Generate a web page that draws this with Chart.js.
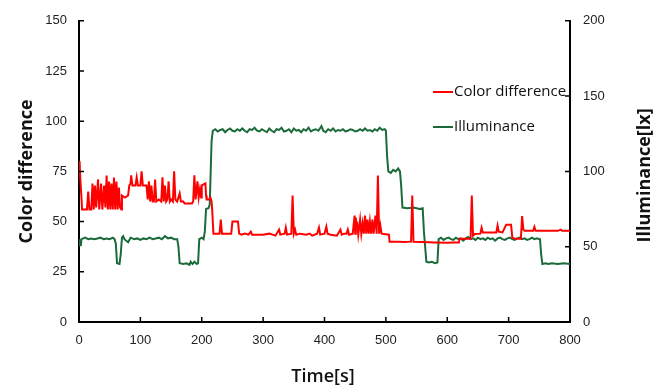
<!DOCTYPE html>
<html>
<head>
<meta charset="utf-8">
<script src="https://cdn.jsdelivr.net/npm/chart.js@4.4.1/dist/chart.umd.min.js"></script>
<style>
  html, body { margin: 0; padding: 0; background: #fff; }
  #wrap { width: 662px; height: 390px; }
</style>
</head>
<body>
<div id="wrap"><canvas id="chart" width="662" height="390"></canvas></div>
<script>
// Farbabstand (linke Achse) und Beleuchtungsstärke (rechte Achse) über die Zeit

const xTicks = [0, 100, 200, 300, 400, 500, 600, 700, 800];
const leftTicks = [0, 25, 50, 75, 100, 125, 150];
const rightTicks = [0, 50, 100, 150, 200];

const colorDiffTime = [
  0, 1, 2, 4, 5, 13, 15, 17, 20, 22, 24, 26, 28, 31, 33, 36, 38, 41, 43, 45,
  47, 49, 51, 53, 55, 57, 59, 61, 63, 65, 67, 69, 70, 75, 80, 82, 84, 85, 87, 92,
  94, 96, 100, 102, 104, 110, 112, 114, 116, 118, 120, 122, 124, 126, 130, 134, 136, 138, 140, 142,
  144, 146, 148, 150, 153, 155, 157, 160, 164, 166, 170, 172, 180, 184, 186, 188, 190, 193, 195, 197,
  199, 200, 206, 207, 208, 212, 214, 216, 217, 219, 229, 231, 233, 248, 250, 259, 261, 265, 270, 276,
  280, 282, 300, 310, 320, 326, 328, 335, 337, 339, 346, 348, 350, 352, 354, 360, 370, 376, 380, 388,
  391, 393, 400, 403, 405, 410, 420, 426, 428, 432, 436, 438, 440, 446, 449, 450, 451, 452, 453, 455,
  458, 460, 462, 464, 466, 468, 470, 472, 474, 476, 478, 480, 483, 485, 487, 489, 491, 493, 505, 506,
  520, 530, 541, 543, 545, 560, 580, 600, 610, 619, 620, 630, 638, 640, 642, 645, 654, 656, 658, 670,
  680, 682, 684, 690, 696, 704, 706, 710, 720, 722, 724, 726, 740, 742, 744, 760, 780, 785, 787, 800
];
const colorDiffValue = [
  76, 80, 72, 62, 56, 56, 65, 56, 56, 69, 56, 68, 57, 71, 56, 69, 56, 68, 57, 73,
  56, 70, 56, 69, 56, 72, 56, 70, 56, 67, 57, 56, 63, 62, 63, 68, 69, 73, 68, 68,
  72, 68, 68, 75, 68, 68, 61, 70, 60, 68, 60, 60, 71, 60, 61, 60, 72, 60, 68, 60,
  61, 70, 60, 61, 60, 75, 61, 60, 64, 60, 60, 59, 59, 59, 60, 73, 61, 70, 62, 66,
  62, 68, 69, 63, 61, 61, 62, 60, 56, 44, 44, 51, 44, 44, 50, 50, 44, 43.5, 44, 43.5,
  45, 43.5, 43.5, 44, 43, 46, 43.5, 44, 47, 43.5, 44, 63, 44, 46, 43.5, 44, 43.5, 44, 43, 44,
  47, 43.5, 44, 47.5, 44, 43.5, 43, 46, 43.5, 44, 44, 46, 43.5, 44, 53, 44, 52, 46, 50, 43.5,
  51, 44, 49, 44, 53, 44, 51, 44, 50, 44, 51, 44, 53, 44, 73, 44, 48, 44, 43.5, 40,
  40, 39.8, 40, 63, 40, 39.8, 39.6, 39.5, 39.6, 39.6, 41.5, 41.5, 41.5, 63, 43, 43.8, 44, 47, 44.6, 44.6,
  44.6, 48, 45, 44.6, 48.4, 48.4, 42, 41.5, 41.5, 52.8, 46, 45.4, 45.4, 47.4, 45.4, 45.4, 45.4, 46, 45.4, 45.4
];

const illumTime = [
  0, 1, 3, 4, 10, 15, 20, 25, 30, 35, 40, 45, 50, 55, 58, 60, 62, 66, 68, 70,
  72, 74, 80, 84, 90, 95, 100, 105, 110, 115, 120, 125, 130, 135, 140, 145, 150, 155, 160, 162,
  164, 170, 175, 180, 182, 185, 188, 192, 194, 196, 200, 203, 205, 207, 211, 213, 216, 218, 222, 226,
  230, 234, 238, 242, 246, 250, 254, 258, 262, 266, 270, 274, 278, 282, 286, 290, 294, 298, 302, 306,
  310, 314, 318, 322, 326, 330, 334, 338, 342, 346, 350, 354, 358, 362, 366, 370, 374, 378, 382, 386,
  390, 395, 398, 402, 406, 410, 414, 418, 422, 426, 430, 434, 438, 442, 446, 450, 454, 458, 462, 466,
  470, 474, 478, 482, 486, 490, 494, 498, 500, 502, 504, 508, 512, 516, 520, 523, 525, 527, 535, 545,
  555, 560, 562, 566, 570, 575, 580, 584, 586, 590, 594, 598, 602, 606, 610, 614, 618, 622, 626, 630,
  634, 638, 642, 646, 650, 654, 658, 662, 666, 670, 674, 678, 682, 686, 690, 694, 698, 702, 706, 710,
  714, 718, 722, 726, 730, 734, 738, 742, 746, 750, 751, 753, 755, 760, 765, 770, 780, 790, 800
];
const illumValue = [
  55, 51, 51, 55, 56, 55, 55.5, 55, 55.5, 56, 55, 55.5, 55, 56, 55, 52, 39, 38.5, 45, 56,
  57, 55, 53, 56, 55, 55.5, 54.5, 55.5, 55, 56, 55, 55.5, 56, 55, 57, 55.5, 56, 55, 55, 50,
  39, 38.5, 39, 38, 40, 38.5, 40, 38.5, 39, 55, 56, 55, 60, 75, 75.5, 78, 120, 127, 128, 126.5,
  127.5, 128, 126, 127.5, 128.5, 127, 126.5, 128, 127, 128.5, 127, 126, 128, 127.5, 129, 127, 126.5, 128, 127, 126,
  128.5, 127, 126, 128, 127.5, 129, 126.5, 127, 128, 126, 128.5, 127, 127.5, 126, 128, 127, 129, 126.5, 127.5, 128,
  127, 130, 127, 126, 128, 127, 128.5, 126.5, 127.5, 127, 128, 126.5, 127, 128, 127.5, 126.5, 127, 128, 127, 128.5,
  127, 127.5, 126.5, 128, 127, 129, 127.5, 128, 127, 110, 100, 99, 101, 100, 102, 100, 90, 76, 75.5, 76,
  75, 75.5, 60, 40, 39.5, 40, 39, 39.5, 55, 56, 54.5, 55.5, 56, 55, 54.5, 56, 55, 55.5, 54, 55.5,
  56.5, 55, 55.5, 54.5, 56, 55, 55.5, 54.5, 56, 55, 55.5, 54, 55.5, 56, 55, 54.5, 55.5, 56, 55, 54.5,
  55.5, 56, 55, 55.5, 54.5, 55, 56, 55, 55.5, 55, 55.5, 45, 38.5, 39, 38.5, 39, 38.5, 39, 38.5
];

const seriesNames = ["Color difference", "Illuminance"];
const axisTitles = { x: "Time[s]", y: "Color difference", y1: "Illuminance[lx]" };

function toPoints(xs, ys) {
  return xs.map((t, i) => ({ x: t, y: ys[i] }));
}

// Ticks nach innen zeichnen
const innerTicks = {
  id: "innerTicks",
  afterDraw(chart) {
    const { ctx, chartArea, scales } = chart;
    const len = 5;
    ctx.save();
    ctx.strokeStyle = "#000";
    ctx.lineWidth = 1.5;
    ctx.beginPath();
    scales.x.ticks.forEach(t => {
      const px = scales.x.getPixelForValue(t.value);
      ctx.moveTo(px, chartArea.bottom);
      ctx.lineTo(px, chartArea.bottom - len);
    });
    scales.y.ticks.forEach(t => {
      const py = scales.y.getPixelForValue(t.value);
      ctx.moveTo(chartArea.left, py);
      ctx.lineTo(chartArea.left + len, py);
    });
    scales.y1.ticks.forEach(t => {
      const py = scales.y1.getPixelForValue(t.value);
      ctx.moveTo(chartArea.right, py);
      ctx.lineTo(chartArea.right - len, py);
    });
    ctx.stroke();
    ctx.restore();
  }
};

// Achsentitel und Legende
const titlesAndLegend = {
  id: "titlesAndLegend",
  afterDraw(chart) {
    const { ctx, chartArea } = chart;
    ctx.save();
    ctx.fillStyle = "#111";
    ctx.font = "bold 18px 'Open Sans'";
    ctx.textAlign = "center";
    ctx.textBaseline = "middle";

    ctx.save();
    ctx.translate(27, (chartArea.top + chartArea.bottom) / 2);
    ctx.rotate(-Math.PI / 2);
    ctx.fillText(axisTitles.y, 0, 0);
    ctx.restore();

    ctx.save();
    ctx.translate(645, (chartArea.top + chartArea.bottom) / 2 + 4);
    ctx.rotate(-Math.PI / 2);
    ctx.fillText(axisTitles.y1, 0, 0);
    ctx.restore();

    ctx.font = "600 18px 'Open Sans'";
    ctx.fillText(axisTitles.x, 323, 377);

    // Legende
    ctx.font = "15px 'Open Sans'";
    ctx.textAlign = "left";
    const rows = [92, 127];
    chart.data.datasets.forEach((ds, i) => {
      const y = rows[i];
      ctx.strokeStyle = ds.borderColor;
      ctx.lineWidth = 2;
      ctx.beginPath();
      ctx.moveTo(433, y);
      ctx.lineTo(453, y);
      ctx.stroke();
      ctx.fillStyle = "#111";
      ctx.fillText(ds.label, 454, y);
    });
    ctx.restore();
  }
};

const tickFont = { family: "'Liberation Sans', Arial", size: 13 };

new Chart(document.getElementById("chart"), {
  type: "line",
  data: {
    datasets: [
      {
        label: seriesNames[0],
        data: toPoints(colorDiffTime, colorDiffValue),
        borderColor: "#FF0000",
        borderWidth: 2,
        pointRadius: 0,
        tension: 0,
        yAxisID: "y"
      },
      {
        label: seriesNames[1],
        data: toPoints(illumTime, illumValue),
        borderColor: "#1B6B3A",
        borderWidth: 2,
        pointRadius: 0,
        tension: 0,
        yAxisID: "y1"
      }
    ]
  },
  options: {
    responsive: false,
    animation: false,
    layout: { padding: { top: 18, left: 0, right: 0, bottom: 0 } },
    plugins: {
      legend: { display: false },
      tooltip: { enabled: false }
    },
    scales: {
      x: {
        type: "linear",
        min: xTicks[0],
        max: xTicks[xTicks.length - 1],
        afterBuildTicks: s => { s.ticks = xTicks.map(v => ({ value: v })); },
        afterFit: s => { s.height = 68; },
        grid: { display: false, drawTicks: false },
        border: { display: true, color: "#000", width: 2 },
        ticks: { font: tickFont, color: "#222", padding: 11, maxRotation: 0 }
      },
      y: {
        position: "left",
        min: leftTicks[0],
        max: leftTicks[leftTicks.length - 1],
        afterBuildTicks: s => { s.ticks = leftTicks.map(v => ({ value: v })); },
        afterFit: s => { s.width = 79; },
        grid: { display: false, drawTicks: false },
        border: { display: true, color: "#000", width: 2 },
        ticks: { font: tickFont, color: "#222", padding: 12 }
      },
      y1: {
        position: "right",
        min: rightTicks[0],
        max: rightTicks[rightTicks.length - 1],
        afterBuildTicks: s => { s.ticks = rightTicks.map(v => ({ value: v })); },
        afterFit: s => { s.width = 92; },
        grid: { display: false, drawTicks: false },
        border: { display: true, color: "#000", width: 2 },
        ticks: { font: tickFont, color: "#222", padding: 13 }
      }
    }
  },
  plugins: [innerTicks, titlesAndLegend]
});
</script>
</body>
</html>
